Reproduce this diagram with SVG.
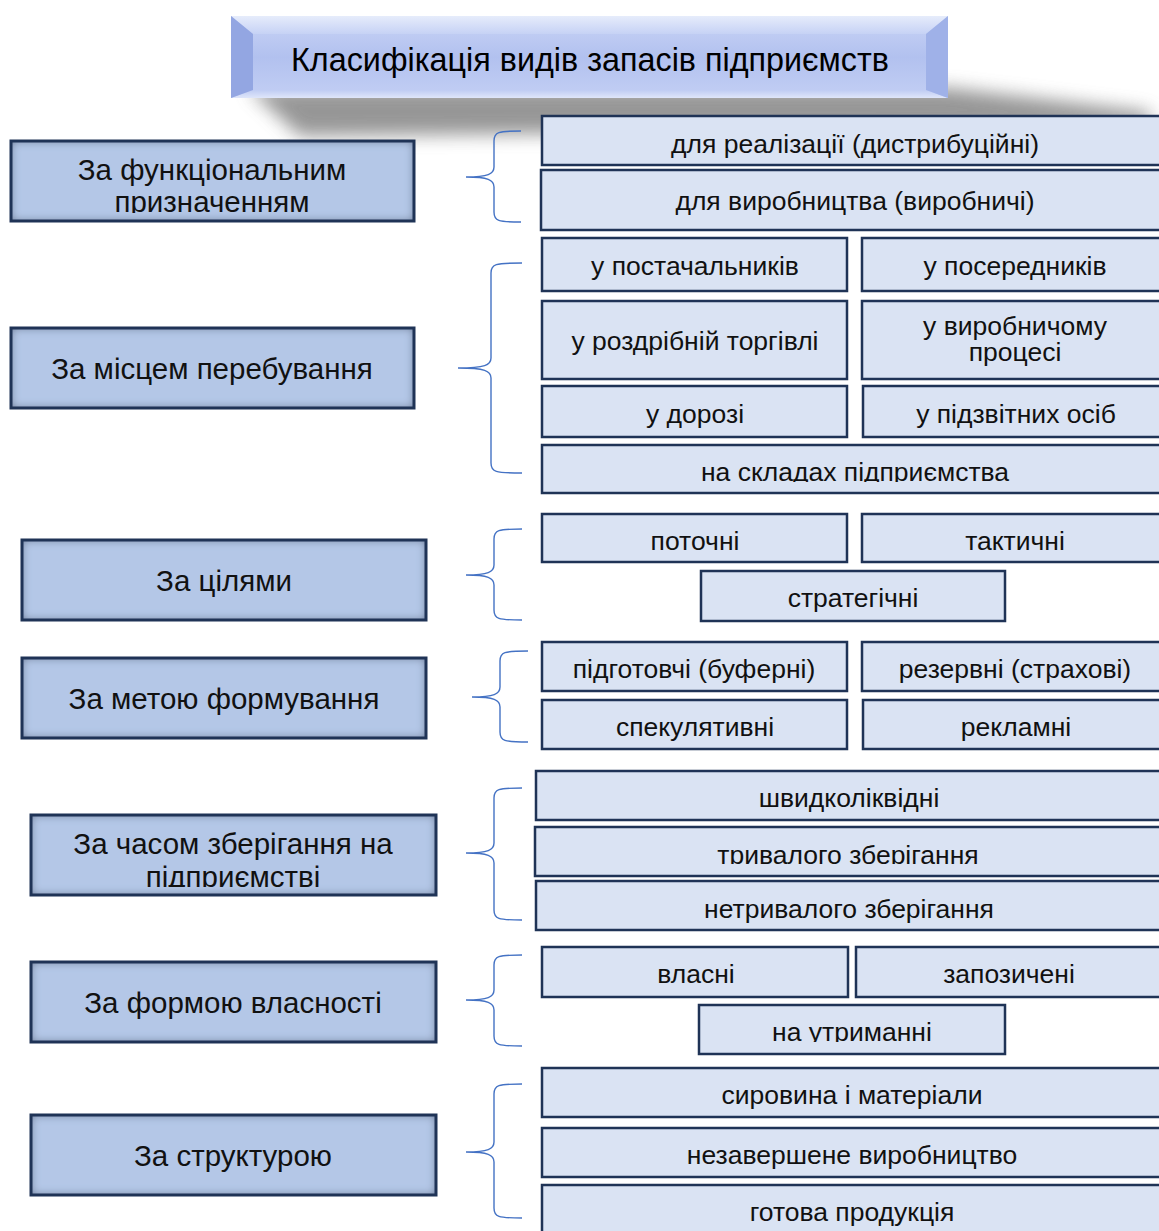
<svg xmlns="http://www.w3.org/2000/svg" width="1159" height="1231" viewBox="0 0 1159 1231">
<defs>
<style>
.cat rect.f{fill:#b4c7e7;}
.cat rect.s{fill:none;stroke:#1f3356;stroke-width:3;}
.cat text{font-family:"Liberation Sans",Arial,sans-serif;font-size:29.5px;fill:#111;text-anchor:middle;}
.item rect{fill:#dae3f3;stroke:#1f3356;stroke-width:2.5;}
.item text{font-family:"Liberation Sans",Arial,sans-serif;font-size:26.5px;fill:#111;text-anchor:middle;}
.brace{fill:none;stroke:#4472c4;stroke-width:1.4;}
</style>
<filter id="inner" x="-5%" y="-10%" width="110%" height="120%">
<feFlood flood-color="#1f3356" flood-opacity="0.85"/>
<feComposite in2="SourceAlpha" operator="out"/>
<feGaussianBlur stdDeviation="5"/>
<feComposite in2="SourceAlpha" operator="in" result="sh"/>
<feMerge><feMergeNode in="SourceGraphic"/><feMergeNode in="sh"/></feMerge>
</filter>
<filter id="blur" x="-20%" y="-100%" width="140%" height="300%">
<feGaussianBlur stdDeviation="9"/>
</filter>
<linearGradient id="face" x1="0" y1="0" x2="0" y2="1">
<stop offset="0" stop-color="#c9d4f6"/>
<stop offset="0.5" stop-color="#b2c1ef"/>
<stop offset="1" stop-color="#c3cff4"/>
</linearGradient>
<linearGradient id="topf" x1="0" y1="0" x2="0" y2="1">
<stop offset="0" stop-color="#e6ecfb"/>
<stop offset="1" stop-color="#c6d2f5"/>
</linearGradient>
<linearGradient id="botf" x1="0" y1="0" x2="0" y2="1">
<stop offset="0" stop-color="#bfccf3"/>
<stop offset="1" stop-color="#dfe6fa"/>
</linearGradient>
<clipPath id="c1"><rect x="0" y="141" width="440" height="72"/></clipPath>
<clipPath id="c5"><rect x="0" y="815" width="440" height="72"/></clipPath>
<clipPath id="cS"><rect x="540" y="445" width="630" height="37"/></clipPath>
<clipPath id="cT"><rect x="530" y="827" width="640" height="37"/></clipPath>
<clipPath id="cU"><rect x="695" y="1005" width="320" height="37"/></clipPath>
</defs>
<rect x="0" y="0" width="1159" height="1231" fill="#ffffff"/>

<g id="title">
<polygon points="248,88 948,88 1150,112 1150,128 300,136" fill="#6b6b6b" opacity="0.7" filter="url(#blur)"/>
<rect x="231" y="16" width="717" height="82" fill="url(#face)"/>
<polygon points="231,16 948,16 926,34 253,34" fill="url(#topf)"/>
<polygon points="231,98 948,98 926,90 253,90" fill="url(#botf)"/>
<polygon points="231,16 253,34 253,90 231,98" fill="#93a6e2"/>
<polygon points="948,16 926,34 926,90 948,98" fill="#9fb1e8"/>
<text x="590" y="71" font-family="'Liberation Sans',Arial,sans-serif" font-size="33" fill="#000" text-anchor="middle" textLength="598" lengthAdjust="spacingAndGlyphs">Класифікація видів запасів підприємств</text>
</g>

<g id="connectors">
<path class="brace" d="M521,131 C498,131 494,132 494,141 L494,167 C494,174 488,177 466,177 C488,177 494,180 494,187 L494,212 C494,221 498,222 521,222"/>
<path class="brace" d="M522,263 C495,263 491,264 491,273 L491,358 C491,365 485,368 458,368 C485,368 491,371 491,378 L491,463 C491,472 495,473 522,473"/>
<path class="brace" d="M522,529 C498,529 494,530 494,539 L494,565 C494,572 488,575 466,575 C488,575 494,578 494,585 L494,610 C494,619 498,620 522,620"/>
<path class="brace" d="M528,651 C504,651 500,652 500,661 L500,687 C500,694 494,697 472,697 C494,697 500,700 500,707 L500,732 C500,741 504,742 528,742"/>
<path class="brace" d="M522,788 C498,788 494,789 494,798 L494,843 C494,850 488,853 466,853 C488,853 494,856 494,863 L494,910 C494,919 498,920 522,920"/>
<path class="brace" d="M522,955 C498,955 494,956 494,965 L494,990 C494,997 488,1000 466,1000 C488,1000 494,1003 494,1010 L494,1036 C494,1045 498,1046 522,1046"/>
<path class="brace" d="M522,1084 C498,1084 494,1085 494,1094 L494,1142 C494,1149 488,1152 466,1152 C488,1152 494,1155 494,1162 L494,1208 C494,1217 498,1218 522,1218"/>
</g>

<g id="cat-functional" class="cat">
<rect class="f" x="11" y="141" width="403" height="80" filter="url(#inner)"/>
<rect class="s" x="11" y="141" width="403" height="80"/>
<g clip-path="url(#c1)">
<text x="212" y="180">За функціональним</text>
<text x="212" y="212">призначенням</text>
</g>
</g>
<g id="cat-place" class="cat">
<rect class="f" x="11" y="328" width="403" height="80" filter="url(#inner)"/>
<rect class="s" x="11" y="328" width="403" height="80"/>
<text x="212" y="379">За місцем перебування</text>
</g>
<g id="cat-goals" class="cat">
<rect class="f" x="22" y="540" width="404" height="80" filter="url(#inner)"/>
<rect class="s" x="22" y="540" width="404" height="80"/>
<text x="224" y="591">За цілями</text>
</g>
<g id="cat-purpose" class="cat">
<rect class="f" x="22" y="658" width="404" height="80" filter="url(#inner)"/>
<rect class="s" x="22" y="658" width="404" height="80"/>
<text x="224" y="709">За метою формування</text>
</g>
<g id="cat-time" class="cat">
<rect class="f" x="31" y="815" width="405" height="80" filter="url(#inner)"/>
<rect class="s" x="31" y="815" width="405" height="80"/>
<g clip-path="url(#c5)">
<text x="233" y="854">За часом зберігання на</text>
<text x="233" y="887">підприємстві</text>
</g>
</g>
<g id="cat-ownership" class="cat">
<rect class="f" x="31" y="962" width="405" height="80" filter="url(#inner)"/>
<rect class="s" x="31" y="962" width="405" height="80"/>
<text x="233" y="1013">За формою власності</text>
</g>
<g id="cat-structure" class="cat">
<rect class="f" x="31" y="1115" width="405" height="80" filter="url(#inner)"/>
<rect class="s" x="31" y="1115" width="405" height="80"/>
<text x="233" y="1166">За структурою</text>
</g>

<g id="i-distr" class="item"><rect x="542" y="116" width="630" height="49"/><text x="855" y="153">для реалізації (дистрибуційні)</text></g>
<g id="i-prod" class="item"><rect x="541" y="170" width="630" height="60"/><text x="855" y="210">для виробництва (виробничі)</text></g>

<g id="i-suppliers" class="item"><rect x="542" y="238" width="305" height="53"/><text x="695" y="275">у постачальників</text></g>
<g id="i-intermediaries" class="item"><rect x="862" y="238" width="310" height="53"/><text x="1015" y="275">у посередників</text></g>
<g id="i-retail" class="item"><rect x="542" y="301" width="305" height="78"/><text x="695" y="350">у роздрібній торгівлі</text></g>
<g id="i-process" class="item"><rect x="862" y="301" width="310" height="78"/><text x="1015" y="335">у виробничому</text><text x="1015" y="361">процесі</text></g>
<g id="i-road" class="item"><rect x="542" y="386" width="305" height="51"/><text x="695" y="423">у дорозі</text></g>
<g id="i-accountable" class="item"><rect x="863" y="386" width="310" height="51"/><text x="1016" y="423">у підзвітних осіб</text></g>
<g id="i-warehouse" class="item"><rect x="542" y="445" width="630" height="48"/><text x="855" y="481" clip-path="url(#cS)">на складах підприємства</text></g>

<g id="i-current" class="item"><rect x="542" y="514" width="305" height="48"/><text x="695" y="550">поточні</text></g>
<g id="i-tactical" class="item"><rect x="862" y="514" width="310" height="48"/><text x="1015" y="550">тактичні</text></g>
<g id="i-strategic" class="item"><rect x="701" y="571" width="304" height="50"/><text x="853" y="607">стратегічні</text></g>

<g id="i-buffer" class="item"><rect x="542" y="642" width="305" height="49"/><text x="694" y="678">підготовчі (буферні)</text></g>
<g id="i-reserve" class="item"><rect x="862" y="642" width="310" height="49"/><text x="1015" y="678">резервні (страхові)</text></g>
<g id="i-speculative" class="item"><rect x="542" y="700" width="305" height="49"/><text x="695" y="736">спекулятивні</text></g>
<g id="i-advert" class="item"><rect x="863" y="700" width="310" height="49"/><text x="1016" y="736">рекламні</text></g>

<g id="i-liquid" class="item"><rect x="536" y="771" width="630" height="49"/><text x="849" y="807">швидколіквідні</text></g>
<g id="i-long" class="item"><rect x="535" y="827" width="630" height="49"/><text x="848" y="864" clip-path="url(#cT)">тривалого зберігання</text></g>
<g id="i-short" class="item"><rect x="536" y="881" width="630" height="49"/><text x="849" y="918">нетривалого зберігання</text></g>

<g id="i-own" class="item"><rect x="542" y="947" width="306" height="50"/><text x="696" y="983">власні</text></g>
<g id="i-borrowed" class="item"><rect x="856" y="947" width="316" height="50"/><text x="1009" y="983">запозичені</text></g>
<g id="i-maintained" class="item"><rect x="699" y="1005" width="306" height="49"/><text x="852" y="1041" clip-path="url(#cU)">на утриманні</text></g>

<g id="i-raw" class="item"><rect x="542" y="1068" width="630" height="49"/><text x="852" y="1104">сировина і матеріали</text></g>
<g id="i-wip" class="item"><rect x="542" y="1128" width="630" height="49"/><text x="852" y="1164">незавершене виробництво</text></g>
<g id="i-finished" class="item"><rect x="542" y="1185" width="630" height="60"/><text x="852" y="1221">готова продукція</text></g>
</svg>
